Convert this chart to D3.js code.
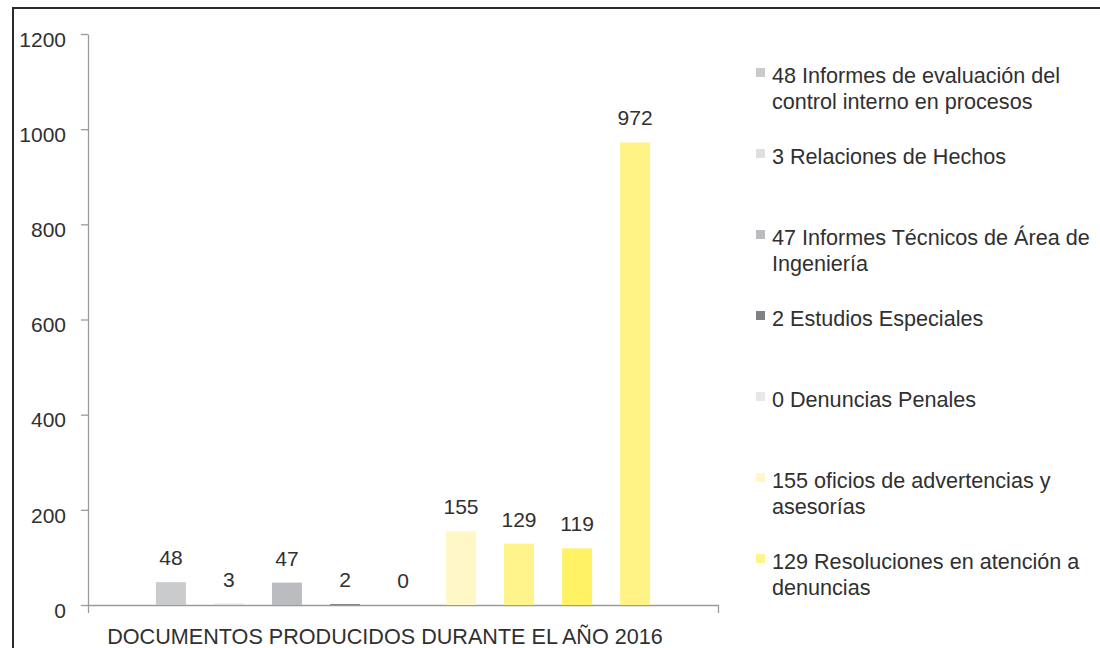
<!DOCTYPE html>
<html>
<head>
<meta charset="utf-8">
<script src="https://cdn.jsdelivr.net/npm/d3@7/dist/d3.min.js"></script>
<style>
  html, body { margin: 0; padding: 0; background: #fff; }
  svg { display: block; font-family: "Liberation Sans", Arial, Helvetica, sans-serif; }
</style>
</head>
<body>
<svg id="chart" width="1100" height="648"></svg>
<script>
// ---- data ----
const category = "DOCUMENTOS PRODUCIDOS DURANTE EL AÑO 2016";
const seriesKeys = ["s1", "s2", "s3", "s4", "s5", "s6", "s7", "s8", "s9"];
const seriesValues = [48, 3, 47, 2, 0, 155, 129, 119, 972];
const seriesColors = ["#cacbcd", "#dedfe0", "#bbbcbf", "#808285", "#e6e7e8", "#fff8c6", "#fff38c", "#fff265", "#fff385"];
const legendLabels = [
  ["48 Informes de evaluación del", "control interno en procesos"],
  ["3 Relaciones de Hechos"],
  ["47 Informes Técnicos de Área de", "Ingeniería"],
  ["2 Estudios Especiales"],
  ["0 Denuncias Penales"],
  ["155 oficios de advertencias y", "asesorías"],
  ["129 Resoluciones en atención a", "denuncias"]
];
const yTicks = [0, 200, 400, 600, 800, 1000, 1200];

// ---- layout ----
const svg = d3.select("#chart");
const plotLeft = 88, plotRight = 718, plotTop = 34, plotBottom = 605;
const textColor = "#303030";
const axisColor = "#9a9a9a";
const fontSize = 21;
const legendFontSize = 21.6;

// border frame
svg.append("rect")
  .attr("x", 13).attr("y", 8)
  .attr("width", 1100).attr("height", 700)
  .attr("fill", "none").attr("stroke", "#2a2a2a").attr("stroke-width", 2);

const y = d3.scaleLinear().domain([0, 1200]).range([plotBottom, plotTop]);
const x0 = d3.scaleBand().domain([category]).range([plotLeft, plotRight]);
const x1 = d3.scaleBand().domain(seriesKeys)
  .range([x0(category), x0(category) + x0.bandwidth()])
  .paddingInner(0.483).paddingOuter(1.17);

// y axis
const yAxis = svg.append("g")
  .attr("transform", `translate(${plotLeft},0)`)
  .call(d3.axisLeft(y).tickValues(yTicks).tickSize(7).tickSizeOuter(0).tickPadding(15).tickFormat(d3.format("d")));
yAxis.select(".domain").attr("stroke", axisColor).attr("stroke-width", 1.3);
yAxis.selectAll(".tick line").attr("stroke", axisColor).attr("stroke-width", 1.3);
yAxis.selectAll(".tick text")
  .attr("fill", textColor).attr("font-size", fontSize)
  .attr("font-family", "'Liberation Sans', Arial, sans-serif")
  .attr("dy", "0.58em");

// x axis
const xAxis = svg.append("g")
  .attr("transform", `translate(0,${plotBottom})`)
  .call(d3.axisBottom(x0).tickSizeInner(0).tickSizeOuter(8).tickFormat(""));
xAxis.select(".domain").attr("stroke", axisColor).attr("stroke-width", 1.3);
xAxis.selectAll(".tick").remove();

// category label
svg.append("text")
  .attr("x", x0(category) + x0.bandwidth() / 2 - 18)
  .attr("y", 644)
  .attr("text-anchor", "middle")
  .attr("fill", textColor)
  .attr("font-size", legendFontSize)
  .text(category);

// bars
const data = seriesKeys.map((k, i) => ({ key: k, value: seriesValues[i], color: seriesColors[i] }));
svg.append("g").selectAll("rect")
  .data(data)
  .join("rect")
  .attr("x", d => x1(d.key))
  .attr("y", d => y(d.value))
  .attr("width", x1.bandwidth())
  .attr("height", d => y(0) - y(d.value))
  .attr("fill", d => d.color);

// value labels
svg.append("g").selectAll("text")
  .data(data)
  .join("text")
  .attr("x", d => x1(d.key) + x1.bandwidth() / 2)
  .attr("y", d => y(d.value) - 17)
  .attr("text-anchor", "middle")
  .attr("fill", textColor)
  .attr("font-size", fontSize)
  .text(d => d3.format("d")(d.value));

// legend
const legend = svg.append("g");
const items = legend.selectAll("g")
  .data(legendLabels)
  .join("g")
  .attr("transform", (d, i) => `translate(756,${83 + i * 81})`);
items.append("rect")
  .attr("x", 0).attr("y", -15)
  .attr("width", 9).attr("height", 9)
  .attr("fill", (d, i) => seriesColors[i]);
items.each(function (lines) {
  const t = d3.select(this).append("text")
    .attr("fill", textColor)
    .attr("font-size", legendFontSize);
  lines.forEach((ln, j) => {
    t.append("tspan").attr("x", 16).attr("y", j * 26).text(ln);
  });
});
</script>
</body>
</html>
